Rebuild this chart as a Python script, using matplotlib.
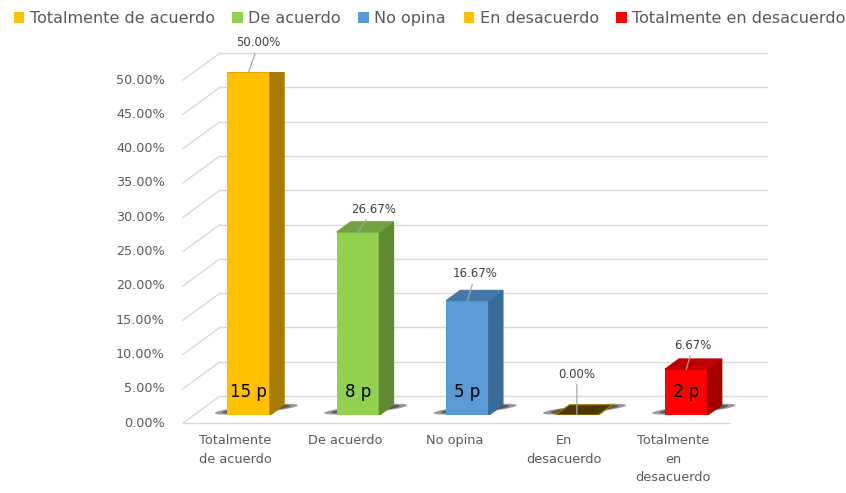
import numpy as np
import matplotlib.pyplot as plt
from matplotlib.patches import Polygon, Patch

categorias = ['Totalmente\nde acuerdo', 'De acuerdo', 'No opina', 'En\ndesacuerdo', 'Totalmente\nen\ndesacuerdo']
leyenda = ['Totalmente de acuerdo', 'De acuerdo', 'No opina', 'En desacuerdo', 'Totalmente en desacuerdo']
porcentajes = [50.00, 26.67, 16.67, 0.00, 6.67]
personas = [15, 8, 5, 0, 2]
yticks = [0, 5, 10, 15, 20, 25, 30, 35, 40, 45, 50]

frente = ['#FFC000', '#92D050', '#5B9BD5', '#FFC000', '#FF0000']
lado = ['#A67C00', '#5F8A33', '#3A6A96', '#A67C00', '#A50000']
tapa = ['#C79500', '#6FA53C', '#4479AA', '#4A3800', '#C00000']

# desplazamiento de las etiquetas de valor (pixeles)
off_etiq = [(10, 29), (15, 23), (8, 27), (0, 41), (7, 24)]

fig = plt.figure(figsize=(8.46, 4.93), dpi=100)
ax = fig.add_axes([194/846, 78/493, 547/846, 343/493])
ax.set_xlim(-0.5, 4.5)
ax.set_ylim(0, 50)
ax.axis('off')

x = np.arange(len(porcentajes))
ancho = 0.39
fx, fy = -0.101, -1.18   # plano frontal
bx, by = 0.237, 2.76     # pared del fondo
px, py = 0.128, 1.5      # profundidad de la barra

gris = '#D9D9D9'
for t in yticks:
    ax.plot([-0.5 + bx, 4.5 + bx], [t + by, t + by], color=gris, lw=1, zorder=1, clip_on=False)
    ax.plot([-0.5 + fx, -0.5 + bx], [t + fy, t + by], color=gris, lw=1, zorder=1, clip_on=False)
    ax.text(-0.5 + fx - 0.165, t + fy, f'{t:.2f}%', ha='right', va='center',
            fontsize=9.2, color='#595959')
ax.plot([-0.5 + fx, 4.5 + fx], [fy, fy], color=gris, lw=1, zorder=1, clip_on=False)

# sombras
th = np.linspace(0, 2*np.pi, 60)
for xi in x:
    cx, cy = xi + 0.07, 0.85
    for s in [1.0, 0.82, 0.65, 0.5, 0.35]:
        a, b = 0.38 * s, 0.55 * s
        xs = cx + a * np.cos(th)
        ys = cy + b * np.sin(th) + 1.5 * a * np.cos(th)
        ax.add_patch(Polygon(np.column_stack([xs, ys]), closed=True, facecolor='black',
                             edgecolor='none', alpha=0.4, zorder=2, clip_on=False))

# barras
ax.bar(x, porcentajes, width=ancho, color=frente, zorder=3)
for xi, v, cl, ct in zip(x, porcentajes, lado, tapa):
    l, r = xi - ancho/2, xi + ancho/2
    ax.add_patch(Polygon([(r, 0), (r + px, py), (r + px, v + py), (r, v)], color=cl, zorder=3))
    ax.add_patch(Polygon([(l, v), (r, v), (r + px, v + py), (l + px, v + py)],
                         facecolor=ct, edgecolor=cl if v == 0 else ct, lw=0.8, zorder=3))

for xi, n in zip(x, personas):
    if n > 0:
        ax.text(xi, 3.4, f'{n} p', ha='center', va='center', fontsize=12, color='black', zorder=4)

for xi, v, (dx, dy) in zip(x, porcentajes, off_etiq):
    ax.annotate(f'{v:.2f}%', xy=(xi, v), xytext=(dx, dy), textcoords='offset pixels',
                ha='center', va='center', fontsize=8.5, color='#404040', zorder=5,
                arrowprops=dict(arrowstyle='-', color='#A6A6A6', lw=0.9, shrinkA=1, shrinkB=0))

for xi, c in zip(x, categorias):
    ax.text(xi + fx - 0.02, fy - 1.6, c, ha='center', va='top', fontsize=9.3,
            color='#595959', linespacing=1.55)

fig.legend(handles=[Patch(facecolor=c) for c in frente], labels=leyenda,
           loc='upper left', bbox_to_anchor=(0.003, 1.0), ncol=5, frameon=False,
           fontsize=11.5, handlelength=0.65, handleheight=0.65, handletextpad=0.35,
           columnspacing=1.1, labelcolor='#595959', borderaxespad=0.3)

fig.savefig('out.png', dpi=100)
